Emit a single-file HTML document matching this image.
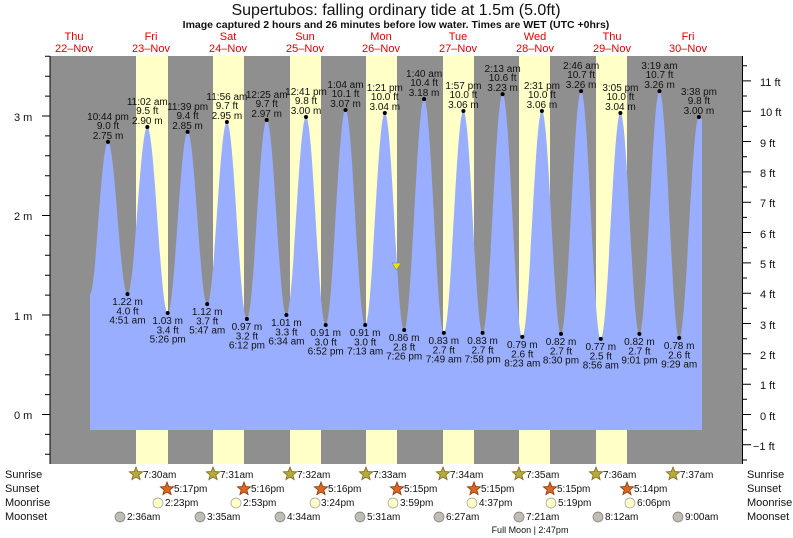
<!DOCTYPE html>
<html><head><meta charset="utf-8"><style>
html,body{margin:0;padding:0;background:#fff}
svg{display:block;font-family:"Liberation Sans",Arial,sans-serif}
</style></head><body>
<svg width="793" height="538" viewBox="0 0 793 538" xmlns="http://www.w3.org/2000/svg">
<defs>
<polygon id="st" points="0,-7 1.76,-2.43 6.66,-2.16 2.85,0.93 4.11,5.66 0,3 -4.11,5.66 -2.85,0.93 -6.66,-2.16 -1.76,-2.43"/>
</defs>
<rect x="0" y="0" width="793" height="538" fill="#fff"/>
<text x="396" y="15" font-size="16" text-anchor="middle" fill="#111">Supertubos: falling  ordinary tide at 1.5m (5.0ft)</text>
<text x="396" y="28" font-size="10.5" font-weight="bold" text-anchor="middle" fill="#111">Image captured 2 hours and 26 minutes before low water. Times are WET (UTC +0hrs)</text>
<g font-size="11" fill="#e00000" text-anchor="middle">
<text x="74" y="40">Thu</text><text x="74" y="52">22–Nov</text>
<text x="151" y="40">Fri</text><text x="151" y="52">23–Nov</text>
<text x="228" y="40">Sat</text><text x="228" y="52">24–Nov</text>
<text x="305" y="40">Sun</text><text x="305" y="52">25–Nov</text>
<text x="381" y="40">Mon</text><text x="381" y="52">26–Nov</text>
<text x="458" y="40">Tue</text><text x="458" y="52">27–Nov</text>
<text x="535" y="40">Wed</text><text x="535" y="52">28–Nov</text>
<text x="612" y="40">Thu</text><text x="612" y="52">29–Nov</text>
<text x="688" y="40">Fri</text><text x="688" y="52">30–Nov</text>
</g>
<rect x="50" y="56" width="693" height="408" fill="#8f8f8f"/>
<g fill="#ffffc8">
<rect x="136" y="56" width="32" height="408"/>
<rect x="213" y="56" width="31" height="408"/>
<rect x="290" y="56" width="31" height="408"/>
<rect x="366" y="56" width="31" height="408"/>
<rect x="443" y="56" width="31" height="408"/>
<rect x="519" y="56" width="31" height="408"/>
<rect x="596" y="56" width="31" height="408"/>
</g>
<path fill="#9aaeff" d="M90,430 L90,294 C96,294 101,141.9 108,141.9
S120.3,294.1 127.5,294.1 S140.1,127 147.3,127 S160.5,313 167.7,313 S180.4,131.9 187.6,131.9 S200,304.1 207.2,304.1
S219.7,122 226.9,122 S239.7,319 246.9,319 S259.5,120 266.7,120 S279.2,315 286.4,315 S298.8,117 306,117
S318.5,325 325.7,325 S338.3,110 345.5,110 S358,325 365.2,325 S377.6,113 384.8,113 S397,330 404.2,330
S416.9,99.1 424.1,99.1 S436.6,332.9 443.8,332.9 S456.2,111 463.4,111 S475.4,332.9 482.6,332.9 S495.4,94.1 502.6,94.1
S515.1,336.9 522.3,336.9 S534.7,111 541.9,111 S553.8,333.9 561,333.9 S573.9,91.1 581.1,91.1 S593.6,338.9 600.8,338.9
S613.2,113 620.4,113 S632.2,333.9 639.4,333.9 S652.3,91.1 659.5,91.1 S672,337.9 679.2,337.9 S691.7,117 698.9,117
L700.5,117.6 L702,119 L702,430 Z"/>
<polygon points="392,263 401,263 396.5,270" fill="#e6e600" stroke="#777" stroke-width="0.5"/>
<g stroke="#000" stroke-width="1" fill="none">
<line x1="50" y1="56" x2="50" y2="464"/>
<line x1="742.5" y1="56" x2="742.5" y2="464"/>
<path d="M45,454.3H50M45,434.4H50M42,414.5H50M45,394.6H50M45,374.7H50M45,354.8H50M45,334.9H50M42,315H50M45,295.1H50M45,275.2H50M45,255.3H50M45,235.4H50M42,215.5H50M45,195.6H50M45,175.7H50M45,155.8H50M45,135.9H50M42,116H50M45,96.1H50M45,76.2H50M45,56.3H50"/>
<path d="M742.5,460H747M742.5,444.8H751M742.5,429.7H747M742.5,414.5H751M742.5,399.3H747M742.5,384.2H751M742.5,369H747M742.5,353.8H751M742.5,338.7H747M742.5,323.5H751M742.5,308.3H747M742.5,293.2H751M742.5,278H747M742.5,262.9H751M742.5,247.7H747M742.5,232.5H751M742.5,217.4H747M742.5,202.2H751M742.5,187H747M742.5,171.9H751M742.5,156.7H747M742.5,141.5H751M742.5,126.4H747M742.5,111.2H751M742.5,96H747M742.5,80.9H751M742.5,65.7H747"/>
</g>
<g font-size="11" fill="#111">
<text x="14" y="121">3 m</text><text x="14" y="220">2 m</text><text x="14" y="320">1 m</text><text x="14" y="419">0 m</text>
<text x="760" y="86">11 ft</text><text x="760" y="116">10 ft</text><text x="760" y="147">9 ft</text><text x="760" y="177">8 ft</text><text x="760" y="207">7 ft</text><text x="760" y="238">6 ft</text><text x="760" y="268">5 ft</text><text x="760" y="298">4 ft</text><text x="760" y="329">3 ft</text><text x="760" y="359">2 ft</text><text x="760" y="389">1 ft</text><text x="760" y="420">0 ft</text><text x="753" y="450">−1 ft</text>
</g>
<g fill="#000">
<circle cx="108" cy="141.9" r="2"/><circle cx="127.5" cy="294.1" r="2"/><circle cx="147.3" cy="127" r="2"/><circle cx="167.7" cy="313" r="2"/>
<circle cx="187.6" cy="131.9" r="2"/><circle cx="207.2" cy="304.1" r="2"/><circle cx="226.9" cy="122" r="2"/><circle cx="246.9" cy="319" r="2"/>
<circle cx="266.7" cy="120" r="2"/><circle cx="286.4" cy="315" r="2"/><circle cx="306" cy="117" r="2"/><circle cx="325.7" cy="325" r="2"/>
<circle cx="345.5" cy="110" r="2"/><circle cx="365.2" cy="325" r="2"/><circle cx="384.8" cy="113" r="2"/><circle cx="404.2" cy="330" r="2"/>
<circle cx="424.1" cy="99.1" r="2"/><circle cx="443.8" cy="332.9" r="2"/><circle cx="463.4" cy="111" r="2"/><circle cx="482.6" cy="332.9" r="2"/>
<circle cx="502.6" cy="94.1" r="2"/><circle cx="522.3" cy="336.9" r="2"/><circle cx="541.9" cy="111" r="2"/><circle cx="561" cy="333.9" r="2"/>
<circle cx="581.1" cy="91.1" r="2"/><circle cx="600.8" cy="338.9" r="2"/><circle cx="620.4" cy="113" r="2"/><circle cx="639.4" cy="333.9" r="2"/>
<circle cx="659.5" cy="91.1" r="2"/><circle cx="679.2" cy="337.9" r="2"/><circle cx="698.9" cy="117" r="2"/>
</g>
<g font-size="10" fill="#111" text-anchor="middle">
<text x="108" y="139">2.75 m</text><text x="108" y="129">9.0 ft</text><text x="108" y="120">10:44 pm</text>
<text x="127.5" y="305">1.22 m</text><text x="127.5" y="314.5">4.0 ft</text><text x="127.5" y="323.5">4:51 am</text>
<text x="147.3" y="124">2.90 m</text><text x="147.3" y="114">9.5 ft</text><text x="147.3" y="105">11:02 am</text>
<text x="167.7" y="324">1.03 m</text><text x="167.7" y="333.5">3.4 ft</text><text x="167.7" y="342.5">5:26 pm</text>
<text x="187.6" y="129">2.85 m</text><text x="187.6" y="119">9.4 ft</text><text x="187.6" y="110">11:39 pm</text>
<text x="207.2" y="315">1.12 m</text><text x="207.2" y="324.5">3.7 ft</text><text x="207.2" y="333.5">5:47 am</text>
<text x="226.9" y="119">2.95 m</text><text x="226.9" y="109">9.7 ft</text><text x="226.9" y="100">11:56 am</text>
<text x="246.9" y="330">0.97 m</text><text x="246.9" y="339.5">3.2 ft</text><text x="246.9" y="348.5">6:12 pm</text>
<text x="266.7" y="117">2.97 m</text><text x="266.7" y="107">9.7 ft</text><text x="266.7" y="98">12:25 am</text>
<text x="286.4" y="326">1.01 m</text><text x="286.4" y="335.5">3.3 ft</text><text x="286.4" y="344.5">6:34 am</text>
<text x="306" y="114">3.00 m</text><text x="306" y="104">9.8 ft</text><text x="306" y="95">12:41 pm</text>
<text x="325.7" y="336">0.91 m</text><text x="325.7" y="345.5">3.0 ft</text><text x="325.7" y="354.5">6:52 pm</text>
<text x="345.5" y="107">3.07 m</text><text x="345.5" y="97">10.1 ft</text><text x="345.5" y="88">1:04 am</text>
<text x="365.2" y="336">0.91 m</text><text x="365.2" y="345.5">3.0 ft</text><text x="365.2" y="354.5">7:13 am</text>
<text x="384.8" y="110">3.04 m</text><text x="384.8" y="100">10.0 ft</text><text x="384.8" y="91">1:21 pm</text>
<text x="404.2" y="341">0.86 m</text><text x="404.2" y="350.5">2.8 ft</text><text x="404.2" y="359.5">7:26 pm</text>
<text x="424.1" y="96">3.18 m</text><text x="424.1" y="86">10.4 ft</text><text x="424.1" y="77">1:40 am</text>
<text x="443.8" y="344">0.83 m</text><text x="443.8" y="353.5">2.7 ft</text><text x="443.8" y="362.5">7:49 am</text>
<text x="463.4" y="108">3.06 m</text><text x="463.4" y="98">10.0 ft</text><text x="463.4" y="89">1:57 pm</text>
<text x="482.6" y="344">0.83 m</text><text x="482.6" y="353.5">2.7 ft</text><text x="482.6" y="362.5">7:58 pm</text>
<text x="502.6" y="91">3.23 m</text><text x="502.6" y="81">10.6 ft</text><text x="502.6" y="72">2:13 am</text>
<text x="522.3" y="348">0.79 m</text><text x="522.3" y="357.5">2.6 ft</text><text x="522.3" y="366.5">8:23 am</text>
<text x="541.9" y="108">3.06 m</text><text x="541.9" y="98">10.0 ft</text><text x="541.9" y="89">2:31 pm</text>
<text x="561" y="345">0.82 m</text><text x="561" y="354.5">2.7 ft</text><text x="561" y="363.5">8:30 pm</text>
<text x="581.1" y="88">3.26 m</text><text x="581.1" y="78">10.7 ft</text><text x="581.1" y="69">2:46 am</text>
<text x="600.8" y="350">0.77 m</text><text x="600.8" y="359.5">2.5 ft</text><text x="600.8" y="368.5">8:56 am</text>
<text x="620.4" y="110">3.04 m</text><text x="620.4" y="100">10.0 ft</text><text x="620.4" y="91">3:05 pm</text>
<text x="639.4" y="345">0.82 m</text><text x="639.4" y="354.5">2.7 ft</text><text x="639.4" y="363.5">9:01 pm</text>
<text x="659.5" y="88">3.26 m</text><text x="659.5" y="78">10.7 ft</text><text x="659.5" y="69">3:19 am</text>
<text x="679.2" y="349">0.78 m</text><text x="679.2" y="358.5">2.6 ft</text><text x="679.2" y="367.5">9:29 am</text>
<text x="698.9" y="114">3.00 m</text><text x="698.9" y="104">9.8 ft</text><text x="698.9" y="95">3:38 pm</text>
</g>
<g font-size="11" fill="#111">
<text x="5" y="478">Sunrise</text><text x="5" y="492">Sunset</text><text x="5" y="506">Moonrise</text><text x="5" y="520">Moonset</text>
<text x="747" y="478">Sunrise</text><text x="747" y="492">Sunset</text><text x="747" y="506">Moonrise</text><text x="747" y="520">Moonset</text>
</g>
<g fill="#b8aa3c" stroke="#7a6a20" stroke-width="0.8">
<use href="#st" x="136" y="474"/><use href="#st" x="213" y="474"/><use href="#st" x="290" y="474"/><use href="#st" x="366" y="474"/>
<use href="#st" x="443" y="474"/><use href="#st" x="519" y="474"/><use href="#st" x="596" y="474"/><use href="#st" x="673" y="474"/>
</g>
<g fill="#dd6620" stroke="#8a3a10" stroke-width="0.8">
<use href="#st" x="167" y="489"/><use href="#st" x="244" y="489"/><use href="#st" x="321" y="489"/><use href="#st" x="397" y="489"/>
<use href="#st" x="474" y="489"/><use href="#st" x="550" y="489"/><use href="#st" x="627" y="489"/>
</g>
<g fill="#ffffc8" stroke="#999" stroke-width="0.7">
<circle cx="158" cy="503" r="5"/><circle cx="236" cy="503" r="5"/><circle cx="315" cy="503" r="5"/><circle cx="393" cy="503" r="5"/>
<circle cx="472" cy="503" r="5"/><circle cx="551" cy="503" r="5"/><circle cx="630" cy="503" r="5"/>
</g>
<g fill="#c0bdb4" stroke="#777" stroke-width="0.7">
<circle cx="120" cy="517" r="5"/><circle cx="200" cy="517" r="5"/><circle cx="280" cy="517" r="5"/><circle cx="360" cy="517" r="5"/>
<circle cx="439" cy="517" r="5"/><circle cx="519" cy="517" r="5"/><circle cx="598" cy="517" r="5"/><circle cx="678" cy="517" r="5"/>
</g>
<g font-size="10" fill="#111">
<text x="143" y="478">7:30am</text><text x="220" y="478">7:31am</text><text x="297" y="478">7:32am</text><text x="373" y="478">7:33am</text><text x="450" y="478">7:34am</text><text x="526" y="478">7:35am</text><text x="603" y="478">7:36am</text><text x="680" y="478">7:37am</text>
<text x="174" y="492">5:17pm</text><text x="251" y="492">5:16pm</text><text x="328" y="492">5:16pm</text><text x="404" y="492">5:15pm</text><text x="481" y="492">5:15pm</text><text x="557" y="492">5:15pm</text><text x="634" y="492">5:14pm</text>
<text x="165" y="506">2:23pm</text><text x="243" y="506">2:53pm</text><text x="321" y="506">3:24pm</text><text x="400" y="506">3:59pm</text><text x="479" y="506">4:37pm</text><text x="558" y="506">5:19pm</text><text x="637" y="506">6:06pm</text>
<text x="127" y="520">2:36am</text><text x="207" y="520">3:35am</text><text x="287" y="520">4:34am</text><text x="367" y="520">5:31am</text><text x="446" y="520">6:27am</text><text x="526" y="520">7:21am</text><text x="605" y="520">8:12am</text><text x="685" y="520">9:00am</text>
<text x="530" y="533" font-size="9" text-anchor="middle">Full Moon | 2:47pm</text>
</g>
</svg>
</body></html>
